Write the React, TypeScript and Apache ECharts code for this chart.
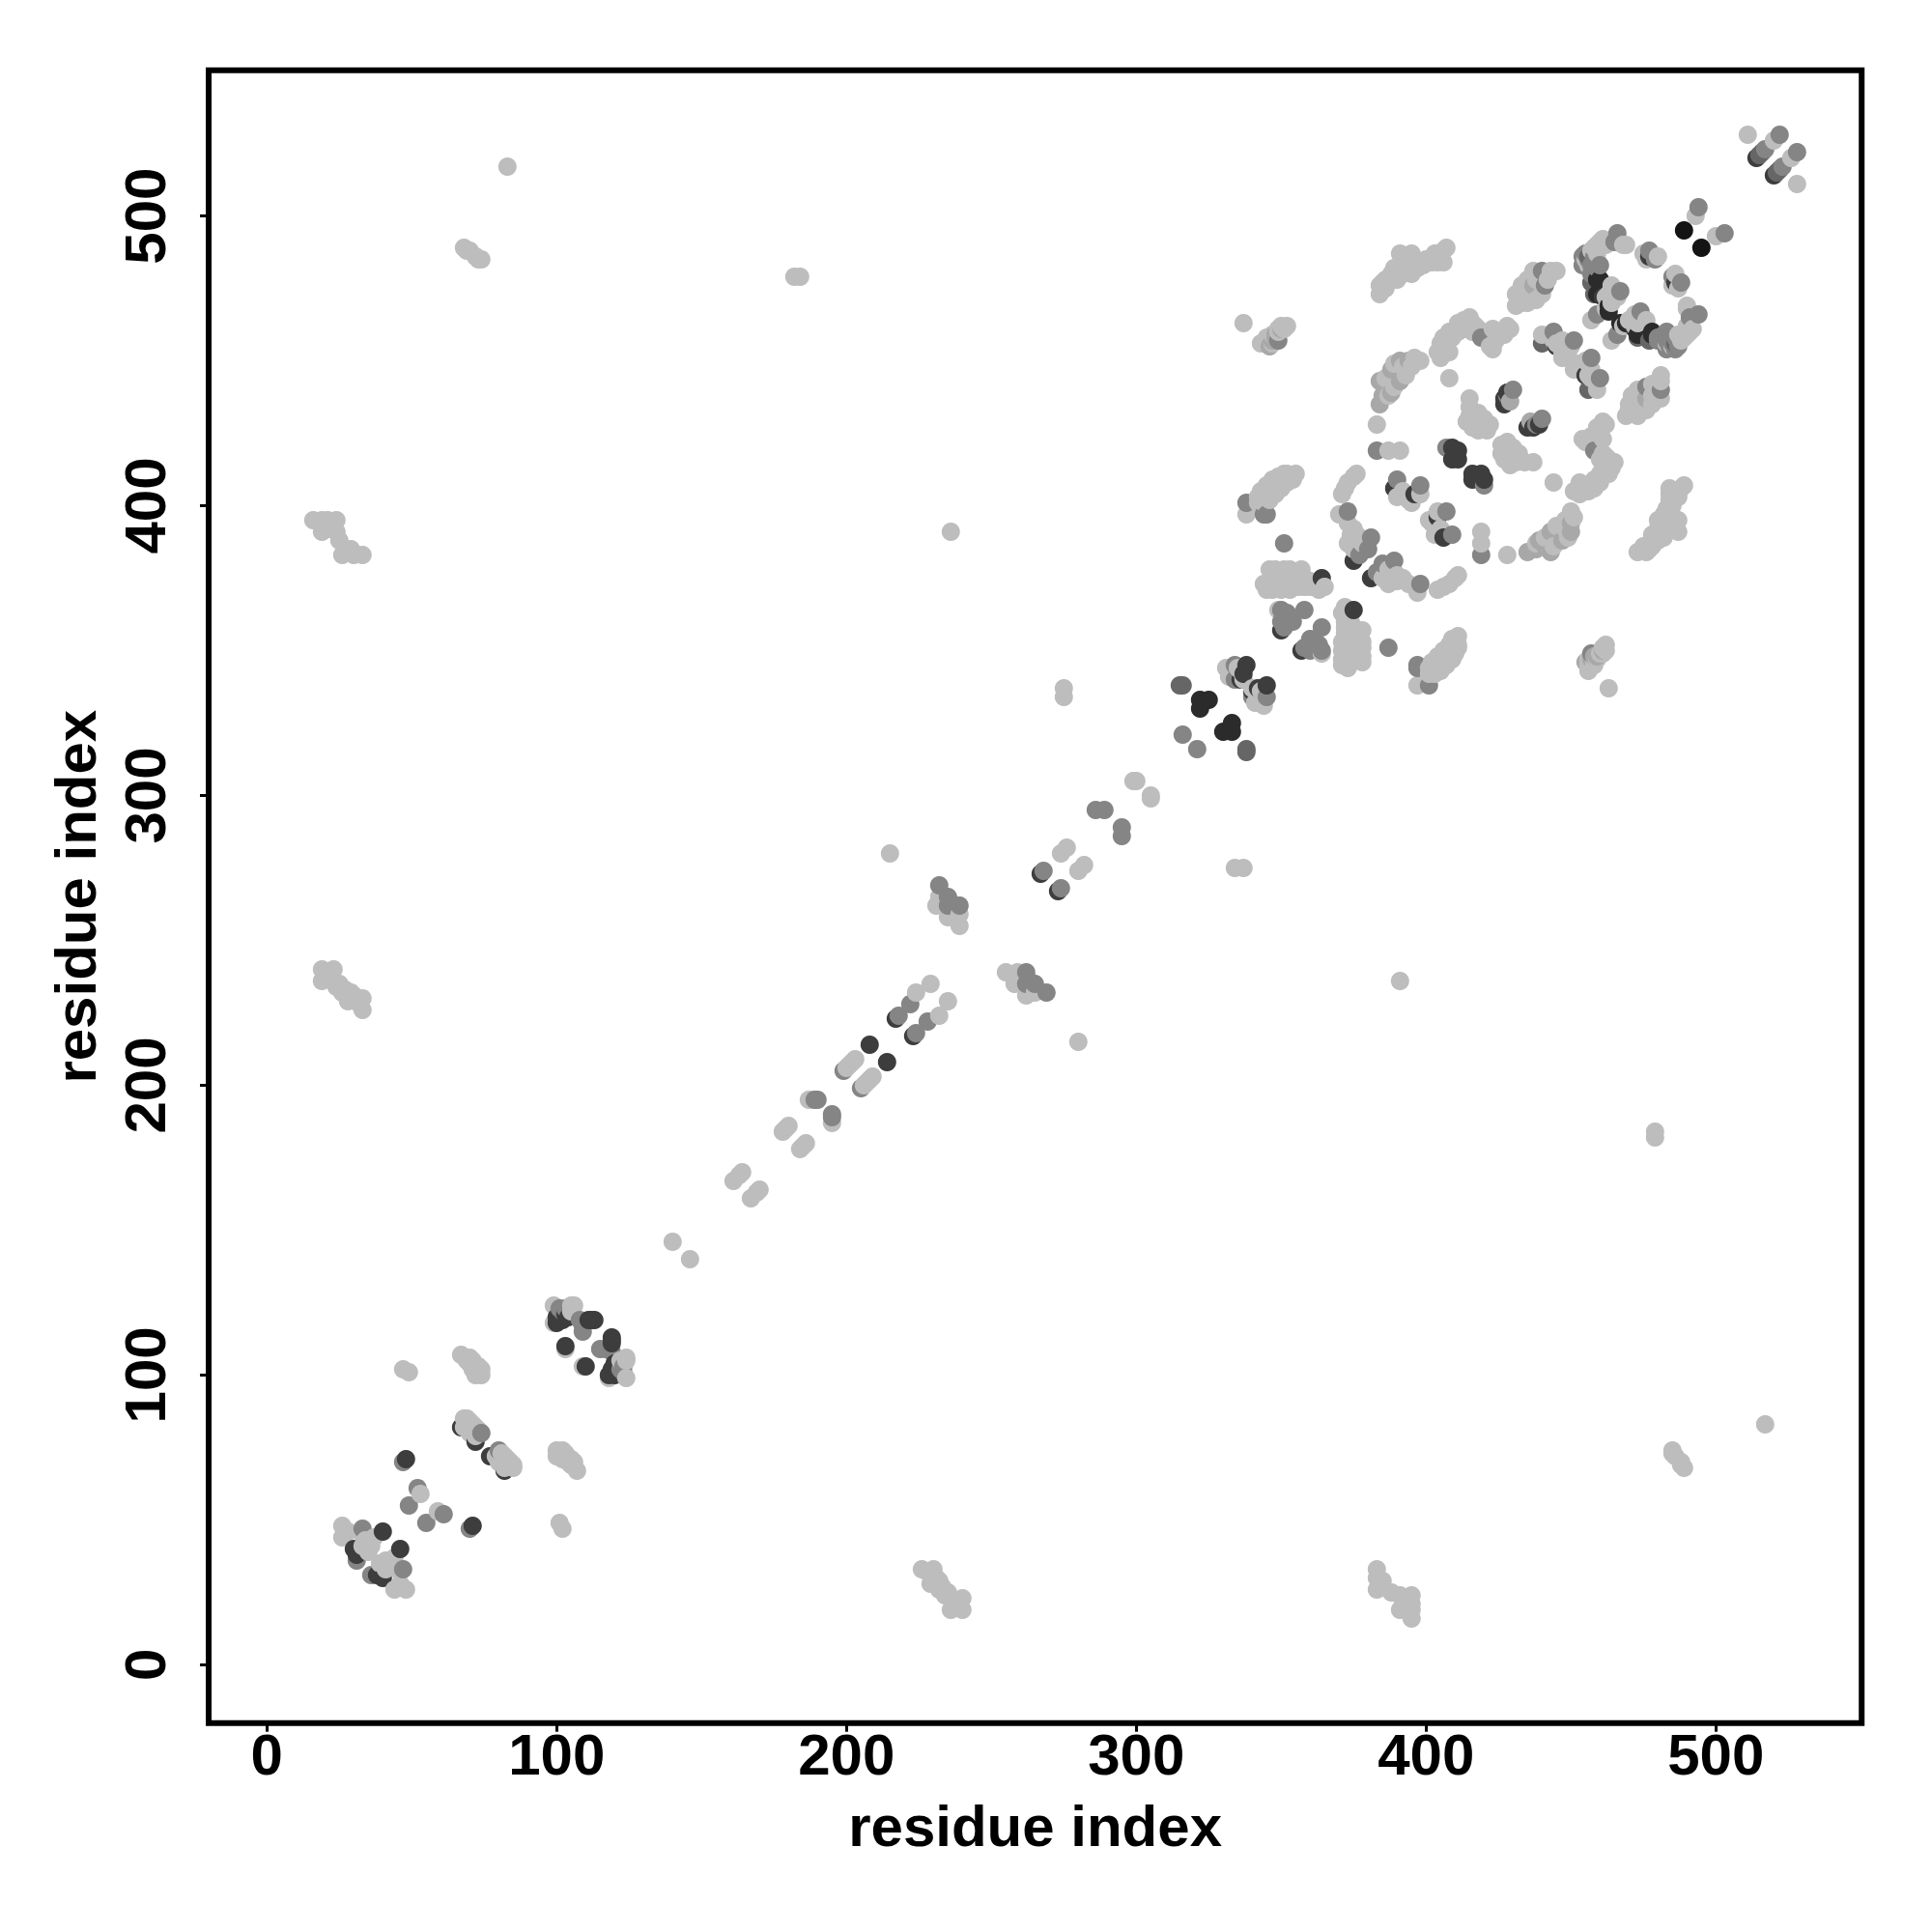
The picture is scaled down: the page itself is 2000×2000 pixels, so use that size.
import React, { useEffect, useRef } from "react";
import * as echarts from "echarts";

const contactsLight: number[][] = [
  [26,48],[26,44],[28,46],[33,45],[34,43],[36,41],[35,39],[37,44],[33,41],[34,42],[53,59],[47,102],[49,101],
  [67,107],[70,106],[70,104],[73,103],[74,100],[72,100],[71,102],[73,101],[69,105],[71,105],[72,103],[74,102],
  [68,85],[69,85],[70,84],[71,83],[72,82],[68,82],[70,80],[72,79],[69,83],[71,80],[73,81],[70,82],
  [99,124],[99,118],[105,124],[106,124],[103,109],[105,122],
  [140,146],[161,167],[163,169],[164,170],[178,184],[179,185],[180,186],[187,195],
  [200,206],[201,207],[202,208],[203,209],[224,232],[229,235],[215,280],
  [232,265],[231,262],[235,258],[239,259],[239,255],[274,280],[276,282],[275,334],[275,337],[299,305],[300,305],
  [236,391],[83,517],[68,489],[69,488],[70,488],[72,486],[73,485],[74,485],[182,479],[184,479],
  [16,395],[19,395],[21,395],[24,395],[19,391],[22,392],[24,391],[25,388],[29,385],[26,383],[30,383],[33,383],
  [19,240],[23,240],[19,236],[23,236],[22,238],[25,235],[27,233],[29,232],[28,229],[31,229],[33,230],[33,226],[24,234],[26,232],[30,231],[32,228],
  [337,463],[343,456],[345,456],[347,456],[349,460],[351,461],[352,462],[345,458],[347,459],[349,461],[350,462],
  [331,344],[336,343],[337,340],[333,342],[335,344],[332,341],
  [355,411],[352,411],[350,410],[349,408],[347,406],[345,405],[344,404],[343,403],[342,401],[338,397],[346,407],[353,410],[348,408],
  [344,401],[346,402],[348,404],[350,406],[352,408],[354,409],[342,403],[343,405],[345,407],[347,409],[349,410],[351,411],
  [346,378],[345,371],[348,378],[349,375],[347,371],[351,374],[353,378],[350,371],[353,371],[355,377],[356,375],[358,375],[360,374],[362,373],[363,371],[365,372],
  [350,377],[352,376],[354,373],[356,372],[358,372],[360,372],[348,373],[346,374],[344,373],[357,378],[351,378],
  [349,364],
  [376,411],[375,410],[373,408],[372,406],[371,404],[370,397],[373,394],[377,389],[373,387],[376,390],[378,387],[375,385],[375,392],[376,388],[374,390],
  [390,403],[398,404],[395,401],[392,405],[394,402],
  [387,419],[391,419],[383,428],
  [384,473],[384,476],[385,477],[388,480],[391,487],[395,487],[391,481],[395,480],[399,483],[402,484],[404,484],[405,485],[406,488],[407,489],[393,484],
  [386,478],[386,475],[389,482],[393,486],[397,482],[400,485],[403,487],[405,487],[406,484],[390,478],[392,480],
  [386,444],[387,438],[389,441],[392,448],[389,449],[393,445],[395,448],[396,451],
  [398,450],[404,453],[405,456],[406,458],[408,460],[411,463],[415,465],[413,464],[417,462],[416,460],[418,461],[422,455],[425,459],[428,462],[426,460],[424,457],
  [407,456],[409,458],[411,460],[414,461],[416,463],[408,453],[405,451],[423,461],[427,459],[429,461],[423,454],
  [408,444],[415,437],[415,431],[417,429],[419,427],[421,426],[415,434],[418,426],[416,431],[414,429],[416,427],[420,430],[422,428],[418,432],
  [431,469],[431,473],[433,476],[435,470],[437,474],[437,481],[440,473],[443,481],[445,481],[434,472],[433,470],[436,472],[438,478],[435,478],[433,473],[438,471],[442,478],
  [440,459],[444,457],[447,453],[447,451],[450,455],[445,456],[449,453],[447,457],[449,456],
  [457,464],[465,474],[462,468],[468,490],[460,491],[461,492],[459,490],[457,488],[456,483],[458,489],[462,490],[463,491],[459,487],[455,485],
  [462,472],[464,470],[466,472],[464,476],[463,473],
  [475,487],[480,486],[476,485],[490,469],[493,500],[511,528],[520,526],
];
const contactsPale: number[][] = [
  [384,435],[384,443],[388,447],[394,450],[391,450],[388,439],[391,443],[386,441],[385,438],[437,476],[346,455],[348,458],[429,436],
  [348,459],[350,461],[347,457],
];
const contactsMid: number[][] = [
  [33,47],[31,36],[47,70],[52,61],[49,55],[74,80],[101,123],[102,122],[103,123],[108,119],[109,117],[109,115],
  [189,195],[190,195],[199,205],[218,224],[222,228],[232,269],[235,265],[235,262],[236,263],[239,262],[268,274],[286,295],[289,295],
  [316,321],[334,345],[334,340],[351,387],[338,401],[344,397],[345,397],[349,457],
  [350,364],[351,361],[351,358],[354,360],[358,364],[352,363],[352,360],[350,360],
  [373,398],[381,389],[380,385],[377,383],[390,409],[398,407],[383,419],[430,440],[428,438],[407,420],[419,458],
  [440,481],[441,476],[444,460],[451,457],[459,466],[467,474],[466,494],[465,491],[477,488],[479,485],
  [455,487],[455,484],[457,483],[456,485],[458,486],[458,480],[456,482],[454,486],[454,483],[457,480],[459,482],[460,483],[494,503],[517,523],[522,528],
];
const contactsGraphite: number[][] = [
  [315,338],[316,338],[440,456],[457,477],[515,521],[516,522],[458,473],[456,486],
];
const contactsDark: number[][] = [
  [30,40],[31,38],[40,46],[48,71],[67,82],[72,77],[100,120],[100,118],[101,121],[102,119],[103,121],[104,120],[111,119],[112,119],[113,119],[103,110],
  [208,214],[217,223],[267,273],[338,345],[337,342],[336,340],[350,357],[364,375],[375,381],[389,406],[396,404],
  [427,435],[427,437],[428,439],[409,420],[411,419],[409,416],[410,418],[411,416],[445,455],[461,472],[477,486],[514,520],
];
const contactsDarker: number[][] = [
  [322,330],[322,333],[325,333],[459,478],[460,478],[463,467],[463,469],[459,473],
];
const contactsBlack: number[][] = [[489,495]];

const tickValues = [0, 100, 200, 300, 400, 500];
const axisTitle = "residue index";
const palette = ["#bdbdbd", "#a8a8a8", "#858585", "#666666", "#3d3d3d", "#2b2b2b", "#141414"];
const groups = [contactsLight, contactsPale, contactsMid, contactsGraphite, contactsDark, contactsDarker, contactsBlack];

// Mirror across the diagonal and draw in residue order, as the original does.
const points: number[][] = [];
groups.forEach((g, level) => {
  g.forEach(([a, b]) => {
    points.push([a, b, level]);
    points.push([b, a, level]);
  });
});
points.sort((p, q) => p[0] - q[0] || p[1] - q[1]);

const FONT = "'Liberation Sans', Arial, sans-serif";

function makeAxis(isX: boolean) {
  return {
    type: "value",
    min: -20.1,
    max: 550.3,
    name: axisTitle,
    nameLocation: "middle",
    nameGap: isX ? 77 : 108,
    nameRotate: isX ? 0 : 90,
    nameTextStyle: { fontFamily: FONT, fontWeight: "bold", fontSize: 60, color: "#000" },
    splitLine: { show: false },
    axisLine: { show: false, onZero: false },
    axisTick: {
      show: true,
      length: 9,
      lineStyle: { color: "#000", width: 3 },
      customValues: tickValues,
    },
    axisLabel: {
      show: true,
      customValues: tickValues,
      rotate: isX ? 0 : 90,
      margin: isX ? 3 : 36,
      fontFamily: FONT,
      fontWeight: "bold",
      fontSize: 60,
      color: "#000",
      hideOverlap: false,
    },
  };
}

export default function App() {
  const ref = useRef<HTMLDivElement>(null);
  useEffect(() => {
    if (!ref.current) return;
    const chart = echarts.init(ref.current, undefined, { renderer: "svg" });
    chart.setOption({
      animation: false,
      backgroundColor: "#fff",
      grid: {
        show: true,
        left: 216,
        top: 72.7,
        width: 1711.2,
        height: 1711,
        borderColor: "#000",
        borderWidth: 6,
        backgroundColor: "transparent",
        containLabel: false,
      },
      xAxis: makeAxis(true),
      yAxis: makeAxis(false),
      series: [
        {
          type: "scatter",
          symbol: "circle",
          symbolSize: 19,
          large: false,
          data: points,
          itemStyle: {
            opacity: 1,
            color: (p: any) => palette[p.value[2]],
          },
        },
      ],
    });
    return () => chart.dispose();
  }, []);
  return (
    <div
      ref={ref}
      style={{ position: "absolute", left: 0, top: 0, width: 2000, height: 2000, background: "#fff" }}
    />
  );
}
